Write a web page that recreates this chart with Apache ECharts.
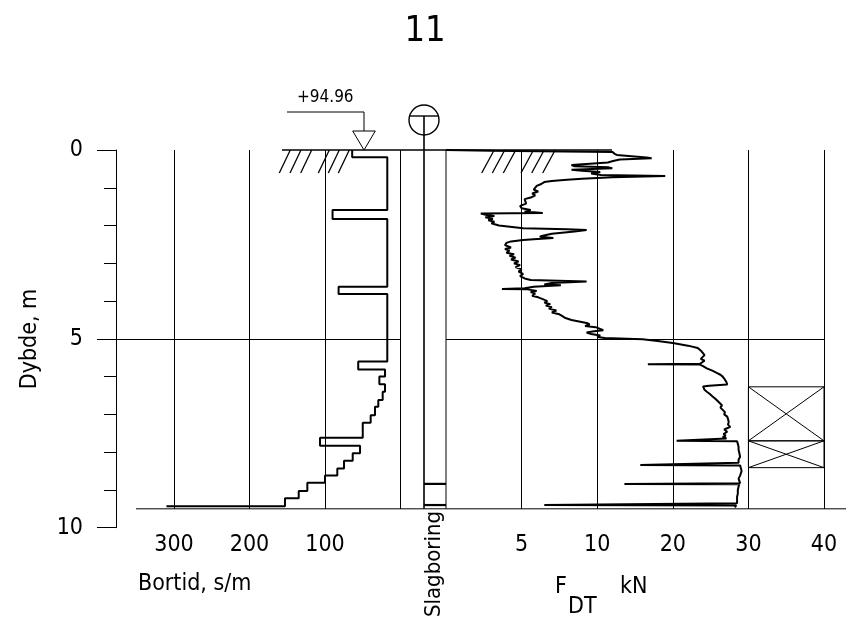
<!DOCTYPE html>
<html><head><meta charset="utf-8">
<script src="https://cdn.jsdelivr.net/npm/echarts@6/dist/echarts.min.js"></script>
<style>html,body{margin:0;padding:0;background:#fff}#c{width:846px;height:626px}</style>
</head><body><div id="c"></div>
<script>
// ---------------- data ----------------
const chartTitle = '11';
const groundLevel = '+94.96';
const depthTicks = [0, 5, 10];
const bortidTicks = [100, 200, 300];
const fdtTicks = [5, 10, 20, 30, 40];

// Bortid (s/m): step boundaries (depth, m) and value inside each step
const bortDepth = [0, 0.19, 1.59, 1.83, 3.62, 3.81, 5.60, 5.81, 6.00, 6.20, 6.40, 6.62, 6.80, 7.02, 7.22, 7.62, 7.83, 8.03, 8.23, 8.43, 8.62, 8.81, 9.03, 9.22, 9.43, 9.43];
const bortValue = [64, 17.5, 90, 17.5, 82, 17.5, 56, 20.5, 28, 20.5, 23.6, 29.4, 33.8, 39.5, 50, 106.6, 53.6, 63.3, 74.8, 83.7, 100, 123.4, 134.8, 153, 310];

// F_DT (kN) against depth (m)
const fdtDepth = [0.00,0.02,0.05,0.10,0.13,0.20,0.22,0.25,0.29,0.33,0.35,0.40,0.43,0.46,0.48,0.52,0.55,0.58,0.62,0.66,0.69,0.72,0.76,0.79,0.82,0.85,0.90,0.95,1.00,1.05,1.10,1.15,1.20,1.26,1.30,1.35,1.42,1.48,1.54,1.59,1.63,1.67,1.68,1.72,1.75,1.78,1.82,1.86,1.90,1.94,2.00,2.04,2.07,2.10,2.12,2.16,2.22,2.27,2.30,2.33,2.36,2.38,2.42,2.46,2.52,2.58,2.62,2.66,2.72,2.76,2.80,2.85,2.90,2.95,3.00,3.05,3.10,3.16,3.22,3.28,3.34,3.40,3.44,3.48,3.52,3.56,3.58,3.62,3.66,3.68,3.69,3.73,3.76,3.80,3.86,3.90,3.95,4.00,4.04,4.08,4.12,4.16,4.20,4.25,4.30,4.35,4.40,4.45,4.50,4.54,4.58,4.62,4.66,4.69,4.73,4.77,4.80,4.83,4.87,4.91,4.95,4.98,5.01,5.06,5.11,5.18,5.24,5.28,5.33,5.38,5.43,5.48,5.53,5.58,5.62,5.66,5.67,5.68,5.72,5.78,5.85,5.90,5.95,6.00,6.08,6.15,6.21,6.24,6.26,6.30,6.35,6.40,6.46,6.53,6.60,6.66,6.70,6.76,6.82,6.88,6.94,7.00,7.06,7.12,7.20,7.27,7.33,7.40,7.46,7.52,7.56,7.60,7.64,7.68,7.70,7.71,7.78,7.86,7.94,8.02,8.12,8.20,8.28,8.33,8.34,8.35,8.42,8.50,8.55,8.62,8.70,8.76,8.82,8.84,8.85,8.91,9.00,9.10,9.18,9.26,9.35,9.40,9.41,9.46];
const fdtValue = [0,3,12.0,12.3,12.6,16.5,17.2,13.0,12.1,11.4,10.0,8.3,8.5,11.5,12.0,8.3,9.0,10.4,9.6,10.5,19.0,12.0,9.0,8.0,7.0,6.5,6.3,6.0,6.1,5.8,6.1,5.7,5.9,5.6,5.2,5.1,5.3,4.9,5.0,5.6,5.2,6.4,2.3,2.7,3.2,2.6,3.1,2.8,3.2,3.0,3.5,3.6,5.1,8.0,9.3,8.5,7.0,6.4,6.2,7.1,5.8,5.1,4.3,4.0,3.9,4.3,3.9,4.2,4.0,4.5,4.2,4.6,4.3,4.8,4.5,4.9,4.6,5.0,4.8,5.1,4.9,5.2,5.6,9.3,7.0,6.5,7.6,5.8,5.2,3.7,5.4,6.0,5.6,5.9,5.7,6.1,6.4,6.7,6.5,6.9,6.6,7.0,6.8,7.3,7.0,7.5,7.7,7.9,8.3,8.8,9.3,9.5,9.2,9.9,10.3,10.8,9.8,9.3,9.6,10.4,10.0,11.0,16.0,18.0,20.0,22.0,23.3,23.4,23.8,23.6,24.2,24.0,23.7,24.2,24.0,23.6,16.7,23.6,24.0,24.5,25.3,25.8,26.3,26.6,26.9,27.1,27.2,24.8,24.0,23.9,24.2,24.5,24.9,25.3,25.7,26.0,26.2,26.5,26.3,26.6,26.9,26.8,27.2,27.3,27.4,27.3,27.6,26.8,27.2,26.7,27.0,26.6,27.1,26.9,20.5,28.5,28.6,28.7,28.7,28.8,28.9,28.7,28.7,28.8,15.7,28.9,29.0,29.1,29.1,28.9,28.7,28.8,28.9,13.6,28.8,28.7,28.6,28.6,28.5,28.5,28.5,6.5,28.4,28.2];

// sample (prøve) intervals, depth m
const sampleTop = [6.27, 7.70];
const sampleBottom = [7.70, 8.41];
// slagboring marks, depth m
const slagDepth = [8.84, 9.40];

// ---------------- helpers ----------------
// F_DT axis: 0-10 linear, 10-40 compressed by 2
function fdtScale(v) { return v <= 10 ? v : 10 + (v - 10) / 2; }
function fdtUnscale(t) { return t <= 10 ? t : 10 + (t - 10) * 2; }

const hasNarrow = (function () {
  const c = document.createElement('canvas').getContext('2d');
  c.font = "40px monospace"; const a = c.measureText('Bortid 300').width;
  c.font = "40px 'Liberation Sans Narrow', monospace"; const b = c.measureText('Bortid 300').width;
  return Math.abs(a - b) > 1;
})();
const FONT = hasNarrow ? "'Liberation Sans Narrow', sans-serif" : "'DejaVu Sans Condensed', 'DejaVu Sans', sans-serif";
const FS = hasNarrow ? 24 : 23;
const INK = '#000';

const bortData = [];
for (let i = 0; i < bortValue.length; i++) {
  bortData.push([bortValue[i], bortDepth[i]]);
  bortData.push([bortValue[i], bortDepth[i + 1]]);
}
const fdtData = fdtDepth.map((d, i) => [fdtScale(fdtValue[i]), d]);
const sampleData = sampleTop.map((t, i) => [t, sampleBottom[i]]);
const slagData = slagDepth.map(d => [d]);

const TOP = 150, PX_PER_M = 37.77;
const H95 = 9.5 * PX_PER_M;

const chart = echarts.init(document.getElementById('c'), null, { renderer: 'canvas' });
const lbl = { color: INK, fontFamily: FONT, fontSize: FS };

chart.setOption({
  animation: false,
  backgroundColor: '#fff',
  grid: [
    { left: 116, top: TOP, width: 1, height: 10 * PX_PER_M, outerBoundsMode: 'none' },
    { left: 116, top: TOP, width: 284.5, height: H95, outerBoundsMode: 'none' },
    { left: 424, top: TOP, width: 22, height: H95, outerBoundsMode: 'none' },
    { left: 446, top: TOP, width: 378, height: H95, outerBoundsMode: 'none' }
  ],
  xAxis: [
    { gridIndex: 0, type: 'value', show: false, min: 0, max: 1 },
    { gridIndex: 1, type: 'value', min: 0, max: 284.5 / 0.755, inverse: true,
      axisLine: { show: false },
      axisTick: { show: true, length: 8, customValues: bortidTicks, lineStyle: { color: INK, width: 1 } },
      axisLabel: Object.assign({ customValues: bortidTicks, margin: 25 }, lbl),
      splitLine: { show: true, lineStyle: { color: INK, width: 1 } } },
    { gridIndex: 2, type: 'value', show: false, min: 0, max: 1 },
    { gridIndex: 3, type: 'value', min: 0, max: 25, interval: 5,
      axisLine: { show: false },
      axisTick: { show: true, length: 8, customValues: fdtTicks.map(fdtScale), lineStyle: { color: INK, width: 1 } },
      axisLabel: Object.assign({ customValues: fdtTicks.map(fdtScale), margin: 25,
        formatter: v => String(Math.round(fdtUnscale(v))) }, lbl),
      splitLine: { show: true, lineStyle: { color: INK, width: 1 } } }
  ],
  yAxis: [
    { gridIndex: 0, type: 'value', min: 0, max: 10, interval: 5, inverse: true,
      axisLine: { show: true, lineStyle: { color: INK, width: 1 } },
      axisTick: { show: true, length: 19, lineStyle: { color: INK, width: 1 } },
      minorTick: { show: true, splitNumber: 5, length: 12, lineStyle: { color: INK, width: 1 } },
      axisLabel: Object.assign({ margin: 33, padding: [0, 0, 16, 0], customValues: depthTicks }, lbl),
      splitLine: { show: false } },
    { gridIndex: 1, type: 'value', min: 0, max: 9.5, inverse: true,
      axisLine: { show: false }, axisTick: { show: false, customValues: [5] }, axisLabel: { show: false },
      splitLine: { show: true, lineStyle: { color: INK, width: 1 } } },
    { gridIndex: 2, type: 'value', min: 0, max: 9.5, inverse: true, show: false },
    { gridIndex: 3, type: 'value', min: 0, max: 9.5, inverse: true,
      axisLine: { show: false }, axisTick: { show: false, customValues: [5] }, axisLabel: { show: false },
      splitLine: { show: true, lineStyle: { color: INK, width: 1 } } }
  ],
  series: [
    { type: 'line', name: 'Bortid', xAxisIndex: 1, yAxisIndex: 1, data: bortData,
      symbol: 'none', clip: false, lineStyle: { color: INK, width: 2 } },
    { type: 'line', name: 'FDT', xAxisIndex: 3, yAxisIndex: 3, data: fdtData,
      symbol: 'none', clip: false, lineStyle: { color: INK, width: 2 } },
    { type: 'custom', name: 'Prøve', xAxisIndex: 3, yAxisIndex: 3, data: sampleData, clip: false,
      encode: { y: [0, 1] },
      renderItem: function (params, api) {
        const p0 = api.coord([fdtScale(30), api.value(0)]);
        const p1 = api.coord([fdtScale(40), api.value(1)]);
        const st = { stroke: INK, lineWidth: 1, fill: null };
        return { type: 'group', children: [
          { type: 'rect', shape: { x: p0[0], y: p0[1], width: p1[0] - p0[0], height: p1[1] - p0[1] }, style: st },
          { type: 'line', shape: { x1: p0[0], y1: p0[1], x2: p1[0], y2: p1[1] }, style: st },
          { type: 'line', shape: { x1: p1[0], y1: p0[1], x2: p0[0], y2: p1[1] }, style: st }
        ] };
      } },
    { type: 'custom', name: 'Slagboring', xAxisIndex: 2, yAxisIndex: 2, data: slagData, clip: false,
      encode: { y: 0 },
      renderItem: function (params, api) {
        const p0 = api.coord([0, api.value(0)]);
        const p1 = api.coord([1, api.value(0)]);
        return { type: 'line', shape: { x1: p0[0], y1: p0[1], x2: p1[0], y2: p1[1] }, style: { stroke: INK, lineWidth: 2.2 } };
      } }
  ],
  graphic: (function () {
    const g = [];
    const ln = (x1, y1, x2, y2, w) => g.push({ type: 'line', silent: true, shape: { x1, y1, x2, y2 }, style: { stroke: INK, lineWidth: w || 1 } });
    const tx = (text, x, y, o) => g.push(Object.assign({ type: 'text', silent: true, x, y,
      style: Object.assign({ text, fill: INK, font: FS + 'px ' + FONT, align: 'left', verticalAlign: 'middle' }, (o && o.style) || {}) },
      o && o.rotation ? { rotation: o.rotation } : {}));
    const B = TOP + H95;
    // frame lines
    ln(136, B, 846, B, 1);
    ln(400.5, TOP, 400.5, B, 1);
    ln(446, TOP, 446, B, 1);
    ln(424, 116, 424, B, 1.6);
    ln(282, TOP, 612, TOP, 1.5);
    // ground hatches
    [279.3, 290, 300.7, 318.3, 328.3, 338.3].forEach(x => ln(x, 173, x + 11, TOP, 1.3));
    [481.7, 492.3, 503.3, 521, 531.7, 542.7].forEach(x => ln(x, 173, x + 12.5, TOP, 1.3));
    // level marker
    g.push({ type: 'polygon', silent: true, shape: { points: [[352.7, 131], [375.3, 131], [364, 150]] }, style: { stroke: INK, fill: '#fff', lineWidth: 1 } });
    g.push({ type: 'polyline', silent: true, shape: { points: [[287, 112], [364, 112], [364, 131]] }, style: { stroke: INK, lineWidth: 1, fill: null } });
    tx(groundLevel, 297, 98, { style: { font: (FS - 6) + 'px ' + FONT } });
    // boring symbol
    g.push({ type: 'circle', silent: true, shape: { cx: 424, cy: 120, r: 15 }, style: { stroke: INK, fill: null, lineWidth: 1.4 } });
    ln(409.5, 116, 438.5, 116, 1.4);
    // texts
    tx(chartTitle, 425, 32, { style: { align: 'center', font: (FS + 13) + 'px ' + FONT } });
    tx('Dybde, m', 30, 339, { rotation: Math.PI / 2, style: { align: 'center' } });
    tx('Bortid, s/m', 138, 584);
    tx('F', 555, 587);
    tx('DT', 568, 607);
    tx('kN', 620, 587);
    tx('Slagboring', 434, 564, { rotation: Math.PI / 2, style: { align: 'center', font: (FS - 1) + 'px ' + FONT } });
    return g;
  })()
});
</script>
</body></html>
